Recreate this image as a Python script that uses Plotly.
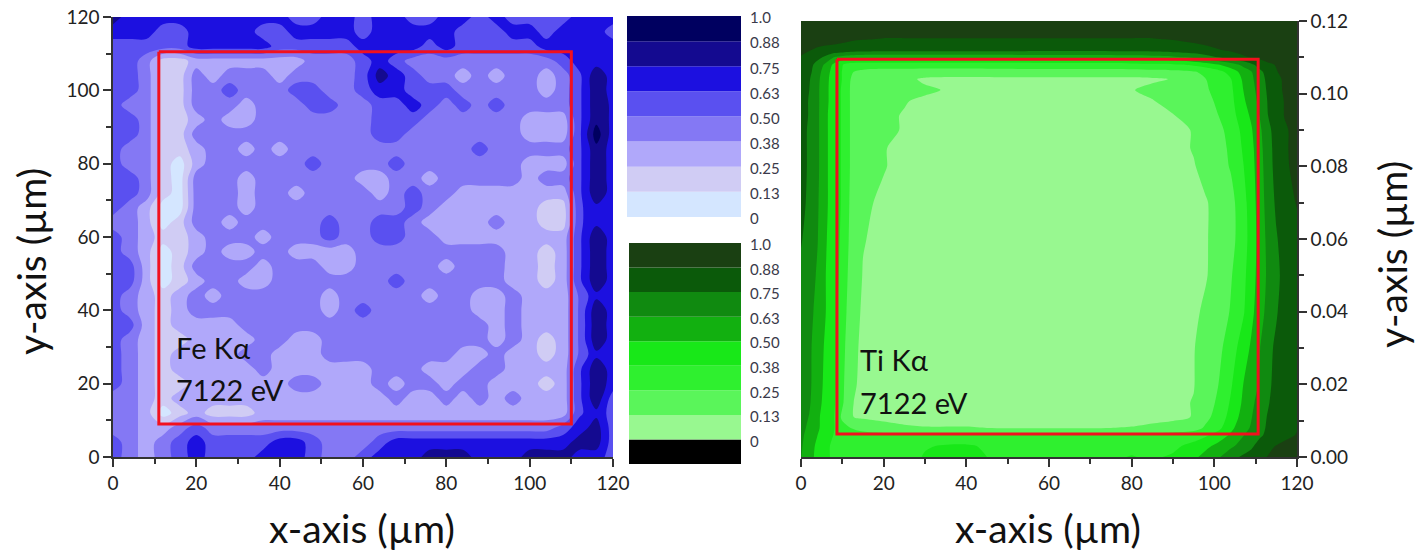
import plotly.graph_objects as go

W, H = 1424, 551

BLUE_COLORS = ["#d4e6ff", "#d0ccf4", "#b0a8fa", "#8478f4", "#5a50f0", "#1c10e0", "#140a90", "#000060"]
GREEN_COLORS = ["#98f890", "#5af55a", "#2ff02f", "#18e818", "#12b010", "#108a10", "#0b5a0a", "#1a4012"]
GREEN_BOTTOM = "#000000"
LEVEL_TICKS = [0, 0.125, 0.25, 0.375, 0.5, 0.625, 0.75, 0.875, 1.0]
LEVEL_TEXT = ["0", "0.13", "0.25", "0.38", "0.50", "0.63", "0.75", "0.88", "1.0"]
AXIS_TICKS = [0, 20, 40, 60, 80, 100, 120]
RIGHT_TICKS = [0.00, 0.02, 0.04, 0.06, 0.08, 0.10, 0.12]

FE_X = [0, 4, 8, 12, 16, 20, 24, 28, 32, 36, 40, 44, 48, 52, 56, 60, 64, 68, 72, 76, 80, 84, 88, 92, 96, 100, 104, 108, 112, 116, 120]
FE_Y = [120, 116, 112, 108, 104, 100, 96, 92, 88, 84, 80, 76, 72, 68, 64, 60, 56, 52, 48, 44, 40, 36, 32, 28, 24, 20, 16, 12, 8, 4, 0]
FE_Z = [
    [81,69,69,69,69,69,69,69,69,69,69,56,56,69,69,56,69,69,56,56,69,69,56,69,56,56,56,56,69,69,69],
    [69,69,69,56,56,69,69,69,69,56,56,69,69,69,69,56,69,69,69,69,69,56,56,56,69,69,56,69,69,69,56],
    [56,56,56,56,56,69,69,69,69,69,56,56,56,56,56,69,69,69,69,56,69,56,56,56,56,56,69,69,69,69,69],
    [56,56,44,19,19,31,31,31,31,31,31,31,44,44,44,56,69,56,44,44,44,44,44,44,44,44,44,56,69,69,69],
    [56,56,44,19,19,44,31,44,44,44,31,44,44,44,44,56,81,69,56,44,44,31,44,31,44,44,31,44,60,84,69],
    [56,56,44,19,19,44,44,56,44,44,44,56,56,44,44,56,69,69,56,56,56,44,44,44,44,44,31,44,60,84,69],
    [56,44,44,19,19,44,44,44,31,44,44,44,56,56,44,44,56,56,69,56,44,56,44,56,44,44,44,44,60,84,72],
    [56,56,44,19,19,31,44,31,31,44,44,44,44,44,44,44,56,56,56,44,44,44,44,44,44,31,31,31,60,84,72],
    [56,56,44,19,19,44,44,44,44,44,44,44,44,44,44,44,56,56,44,44,44,44,44,44,44,31,31,31,60,94,69],
    [56,44,44,19,19,31,44,44,31,44,31,44,44,44,44,44,44,44,44,44,44,44,56,44,44,44,44,44,60,84,69],
    [56,44,44,19,6,31,44,44,44,44,44,44,56,44,44,44,44,56,44,44,44,44,44,44,44,31,31,31,60,84,69],
    [56,56,44,19,6,44,44,44,31,44,44,44,44,44,44,31,31,44,44,31,44,44,44,44,44,31,44,44,60,84,69],
    [56,56,44,19,6,44,44,44,31,44,44,31,44,44,44,44,31,44,56,44,44,31,31,31,31,31,31,31,60,84,69],
    [56,44,31,6,6,44,44,44,31,44,44,44,44,44,44,44,44,44,56,44,31,31,31,31,31,31,19,19,60,72,69],
    [44,44,31,6,19,44,44,31,44,44,44,44,44,56,44,44,56,56,44,31,31,31,31,44,31,31,19,19,60,72,69],
    [56,44,31,19,19,31,44,44,44,31,44,44,44,56,44,44,56,56,44,44,31,31,31,31,31,31,31,31,60,84,69],
    [56,44,31,6,19,31,44,31,31,44,44,31,31,31,31,44,44,44,44,44,44,44,44,44,31,31,19,31,60,84,69],
    [56,56,31,6,19,44,44,44,44,31,44,44,44,31,31,44,44,44,44,44,31,44,44,44,31,31,19,31,60,84,69],
    [56,56,31,6,19,31,44,44,31,31,44,44,44,44,44,44,44,56,44,44,44,44,44,44,31,31,19,31,60,84,69],
    [56,44,31,19,31,44,31,44,44,44,44,44,44,31,44,44,44,44,44,31,44,44,31,31,44,31,31,31,52,72,69],
    [56,44,31,19,31,44,44,44,44,44,44,44,44,31,44,56,44,44,44,44,44,44,31,31,44,31,31,31,52,84,69],
    [56,56,31,19,31,31,31,31,44,44,44,44,44,44,44,44,44,44,44,44,44,44,44,31,44,31,31,31,52,84,69],
    [56,44,31,19,19,31,31,31,31,44,44,31,31,44,44,44,44,44,44,44,44,44,44,31,44,31,19,31,52,84,69],
    [56,44,31,19,31,31,31,31,44,44,31,31,31,44,44,44,44,44,44,44,44,31,31,44,31,31,19,31,52,72,69],
    [56,44,31,19,31,31,31,31,31,44,31,31,31,31,31,31,44,44,44,31,31,31,44,44,31,31,31,31,60,84,69],
    [56,44,31,19,19,31,31,31,31,31,31,44,44,31,31,31,44,31,44,44,31,44,44,31,31,31,19,31,60,84,69],
    [44,44,31,19,31,31,31,31,31,31,31,31,31,31,31,31,31,44,31,31,44,31,44,31,44,31,31,31,60,84,56],
    [44,44,31,6,19,31,19,19,19,31,31,31,31,31,31,31,31,31,31,31,31,31,31,31,31,31,31,31,60,72,56],
    [44,44,31,31,44,56,44,44,44,44,44,44,44,44,44,44,44,44,44,44,44,44,44,44,44,44,44,56,69,81,56],
    [56,44,31,44,56,69,56,56,56,56,69,69,56,44,44,44,56,69,69,69,69,69,69,69,69,69,69,69,81,81,56],
    [56,44,31,44,56,69,56,56,56,69,69,69,56,44,44,56,69,69,69,81,81,81,69,69,69,81,81,81,69,69,56],
]

TI_X = [0, 2, 4, 6, 8, 10, 12, 15, 20, 25, 30, 40, 50, 60, 70, 80, 85, 90, 95, 98, 101, 104, 107, 109, 111, 113, 115, 117, 120]
TI_Y = [0.120, 0.115, 0.112, 0.110, 0.108, 0.106, 0.104, 0.101, 0.098, 0.094, 0.090, 0.085, 0.080, 0.070, 0.060, 0.050, 0.040, 0.030, 0.020, 0.015, 0.011, 0.008, 0.006, 0.003, 0.000]
TI_Z = [
    [96,96,96,96,96,96,96,96,96,96,96,96,96,96,96,96,96,96,96,96,96,96,96,96,96,96,96,96,96],
    [93,92,92,91,91,90,89,88,87,87,87,87,87,87,87,87,87,88,90,91,92,93,94,95,95,96,96,96,96],
    [89,88,86,85,84,83,81,80,79,79,79,79,79,78,78,79,79,81,83,85,87,89,91,92,93,94,95,95,96],
    [87,84,79,72,62,58,55,54,54,54,54,54,54,55,55,56,58,60,65,70,75,81,86,88,90,91,93,94,95],
    [85,80,70,60,47,38,33,32,32,32,32,32,32,33,33,34,35,36,40,44,50,57,66,73,80,86,88,91,94],
    [84,78,68,55,45,37,26,22,20,20,19,19,20,20,20,20,21,22,24,28,33,43,55,62,72,80,87,90,94],
    [83,76,66,53,45,37,25,21,18,15,11,10,10,10,10,10,11,13,21,25,29,37,52,60,70,78,85,89,93],
    [82,75,65,53,44,36,24,20,17,16,14,10,9,9,9,12,15,16,20,24,28,35,50,58,68,77,84,89,92],
    [81,74,65,53,44,36,24,19,15,13,11,9,9,9,9,10,12,16,19,22,27,34,48,56,66,76,83,88,92],
    [81,74,65,52,44,36,24,18,14,12,10,9,8,8,8,9,10,12,17,20,25,32,45,52,63,75,82,88,92],
    [80,73,65,52,44,36,24,17,14,12,9,8,8,8,8,8,9,10,13,17,22,29,41,49,60,72,80,86,91],
    [80,73,65,52,44,36,24,16,13,10,9,8,8,8,8,8,8,10,13,16,21,27,39,47,58,71,79,86,91],
    [80,73,65,52,44,36,24,16,13,10,9,8,8,8,8,8,8,10,12,15,20,26,37,46,57,70,79,86,90],
    [79,72,64,52,44,36,23,14,11,9,8,8,8,8,8,8,8,9,11,12,15,21,33,44,56,68,77,84,88],
    [76,70,63,51,43,35,22,13,10,9,8,8,8,8,8,8,8,9,10,12,15,21,32,43,55,66,74,80,85],
    [72,68,61,50,42,34,20,12,10,9,8,8,8,8,8,8,8,9,10,12,16,24,34,45,55,65,72,79,84],
    [70,66,59,50,41,32,18,11,9,9,8,8,8,8,8,8,8,9,11,14,18,26,36,47,57,67,74,80,84],
    [70,65,56,48,40,30,15,11,9,9,8,8,8,8,8,8,8,9,12,17,22,31,44,52,62,72,77,81,85],
    [70,65,55,47,40,28,14,11,9,9,8,8,8,8,8,8,8,9,12,19,25,36,50,57,64,73,78,82,85],
    [69,64,54,46,39,27,13,11,9,9,9,8,8,8,8,8,9,10,13,20,27,39,52,60,67,74,80,84,86],
    [67,62,52,45,38,22,13,11,10,9,9,9,9,9,9,9,9,10,13,22,30,42,55,62,70,76,81,85,87],
    [66,60,52,44,38,30,25,20,16,14,13,13,12,12,12,13,15,17,20,27,34,47,58,64,71,77,82,85,87],
    [65,58,50,42,37,33,31,30,29,29,29,29,29,29,29,29,29,30,32,36,43,52,62,67,73,78,82,85,88],
    [64,56,47,39,36,34,33,33,33,34,37,39,33,32,33,35,34,35,41,47,54,60,68,73,80,85,88,90,91],
    [63,55,46,39,36,35,34,34,34,35,38,41,34,33,34,38,36,39,47,55,61,71,77,80,85,88,90,92,93],
]

FE_BOX_X = [11, 110, 110, 11, 11]
FE_BOX_Y = [110.5, 110.5, 9, 9, 110.5]
TI_BOX_X = [8.7, 110.6, 110.6, 8.7, 8.7]
TI_BOX_Y = [0.1095, 0.1095, 0.0063, 0.0063, 0.1095]


def stepped(colors):
    n = len(colors)
    out = []
    for i, c in enumerate(colors):
        out += [[i / n, c], [(i + 1) / n, c]]
    return out


def dom_x(a, b):
    return [a / W, b / W]


def dom_y(top, bottom):
    return [1 - bottom / H, 1 - top / H]


def pct(rows):
    return [[v / 100 for v in r] for r in rows][::-1]


FONT = "Lato, 'Open Sans', sans-serif"
INK = "#222222"
AXIS = "#333333"
RED = "#f2101e"

fig = go.Figure()

fig.add_trace(go.Contour(
    x=FE_X, y=FE_Y[::-1], z=pct(FE_Z), xaxis="x", yaxis="y", showscale=False,
    zmin=0, zmax=1, colorscale=stepped(BLUE_COLORS),
    contours=dict(start=0, end=1, size=0.125, coloring="fill", showlines=False),
    line=dict(width=0, smoothing=1.0), hoverinfo="skip"))
fig.add_trace(go.Contour(
    x=TI_X, y=TI_Y[::-1], z=pct(TI_Z), xaxis="x2", yaxis="y2", showscale=False,
    zmin=0, zmax=1, colorscale=stepped(GREEN_COLORS),
    contours=dict(start=0, end=1, size=0.125, coloring="fill", showlines=False),
    line=dict(width=0, smoothing=0.8), hoverinfo="skip"))
fig.add_trace(go.Scatter(x=FE_BOX_X, y=FE_BOX_Y, xaxis="x", yaxis="y", mode="lines",
                         line=dict(color=RED, width=3), hoverinfo="skip"))
fig.add_trace(go.Scatter(x=TI_BOX_X, y=TI_BOX_Y, xaxis="x2", yaxis="y2", mode="lines",
                         line=dict(color=RED, width=3), hoverinfo="skip"))

fig.add_trace(go.Bar(x=[0] * 8, y=[0.125] * 8, base=LEVEL_TICKS[:-1], width=1,
                     marker=dict(color=BLUE_COLORS, line=dict(width=0)),
                     xaxis="x3", yaxis="y3", hoverinfo="skip"))
fig.add_trace(go.Bar(x=[0] * 9, y=[0.125] * 9, base=[-0.125] + LEVEL_TICKS[:-1], width=1,
                     marker=dict(color=[GREEN_BOTTOM] + GREEN_COLORS, line=dict(width=0)),
                     xaxis="x4", yaxis="y4", hoverinfo="skip"))


def main_axis(**kw):
    d = dict(showgrid=False, zeroline=False, showline=True, linecolor=AXIS, linewidth=1.5,
             ticks="outside", ticklen=8, tickwidth=1.5, tickcolor=AXIS, automargin=False,
             ticklabeloverflow="allow",
             tickfont=dict(family=FONT, size=19, color=INK), layer="above traces")
    d.update(kw)
    return d


def minor(step):
    return dict(dtick=step, ticks="outside", ticklen=5, tickwidth=1.5, tickcolor=AXIS)


def level_axis(**kw):
    d = dict(side="right", showgrid=False, zeroline=False, automargin=False, ticklabeloverflow="allow",
             ticklabelshift=2,
             tickvals=LEVEL_TICKS, ticktext=LEVEL_TEXT, ticks="outside", ticklen=5,
             tickcolor="rgba(0,0,0,0)", tickfont=dict(family=FONT, size=15, color="#3a3a4a"))
    d.update(kw)
    return d


TITLE = dict(family=FONT, size=39, color="#111111")
LABEL = dict(family=FONT, size=29, color="#111111")


def note(x, y, ax, text):
    return dict(x=x, y=y, xref="x" + ax, yref="y" + ax, text=text, showarrow=False, xanchor="left", font=LABEL)


def title(px, py, text, angle=0):
    return dict(x=px / W, y=1 - py / H, xref="paper", yref="paper", text=text,
                showarrow=False, xanchor="center", yanchor="middle", textangle=angle, font=TITLE)


fig.update_layout(
    width=W, height=H, margin=dict(l=0, r=0, t=0, b=0),
    paper_bgcolor="white", plot_bgcolor="white", showlegend=False, barmode="overlay",
    xaxis=main_axis(domain=dom_x(113, 613), range=[0, 120], tickvals=AXIS_TICKS, anchor="y", minor=minor(10)),
    yaxis=main_axis(domain=dom_y(17, 457), range=[0, 120], tickvals=AXIS_TICKS, anchor="x", minor=minor(10)),
    xaxis2=main_axis(domain=dom_x(801, 1297), range=[0, 120], tickvals=AXIS_TICKS, anchor="y2", minor=minor(10)),
    yaxis2=main_axis(domain=dom_y(21, 457), range=[0, 0.12], tickvals=RIGHT_TICKS, tickformat=".2f",
                     anchor="x2", side="right", minor=minor(0.01)),
    xaxis3=dict(domain=dom_x(627, 741), range=[-0.5, 0.5], visible=False, anchor="y3"),
    yaxis3=level_axis(domain=dom_y(16, 217), range=[0, 1], anchor="x3"),
    xaxis4=dict(domain=dom_x(629, 741), range=[-0.5, 0.5], visible=False, anchor="y4"),
    yaxis4=level_axis(domain=dom_y(243, 464), range=[-0.125, 1], anchor="x4"),
    annotations=[
        note(14.6, 30, "", "Fe Kα"),
        note(14.6, 18.3, "", "7122 eV"),
        note(13.8, 0.0267, "2", "Ti Kα"),
        note(13.8, 0.0151, "2", "7122 eV"),
        title(362, 527.5, "x-axis (µm)"),
        title(1048, 527.5, "x-axis (µm)"),
        title(31, 262, "y-axis (µm)", -90),
        title(1392, 255, "y-axis (µm)", -90),
    ],
)

fig.write_html("out.html", config=dict(displayModeBar=False),
               post_script="document.body.style.margin='0';")
